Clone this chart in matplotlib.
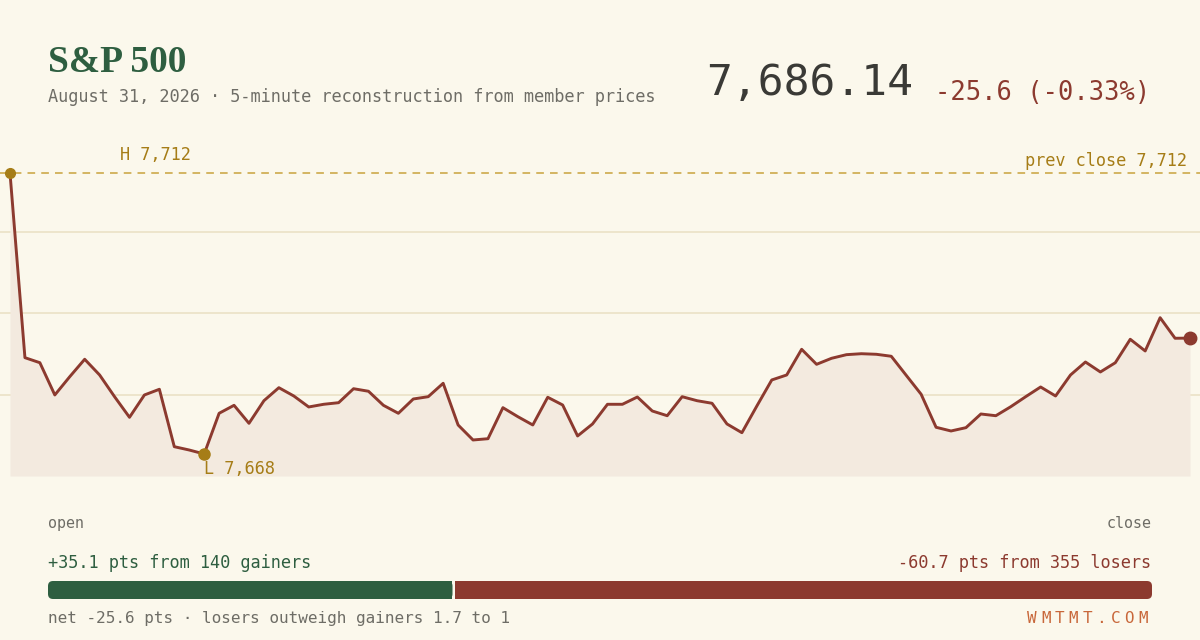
import numpy as np
import matplotlib
matplotlib.use("Agg")
import matplotlib.pyplot as plt
from matplotlib.patches import FancyBboxPatch, Rectangle

# 5-minute index levels, open -> close
levels = [7712.00, 7683.08, 7682.29, 7677.24, 7680.10, 7682.83, 7680.37, 7676.97,
          7673.74, 7677.24, 7678.13, 7669.14, 7668.62, 7668.00, 7674.37, 7675.62,
          7672.80, 7676.34, 7678.38, 7677.08, 7675.36, 7675.78, 7676.03, 7678.22,
          7677.82, 7675.62, 7674.37, 7676.61, 7676.97, 7679.07, 7672.54, 7670.19,
          7670.39, 7675.25, 7673.84, 7672.54, 7676.88, 7675.67, 7670.82, 7672.70,
          7675.78, 7675.78, 7676.92, 7674.73, 7673.99, 7676.97, 7676.34, 7675.94,
          7672.70, 7671.33, 7675.51, 7679.59, 7680.37, 7684.39, 7682.04, 7682.98,
          7683.55, 7683.70, 7683.61, 7683.30, 7680.32, 7677.35, 7672.18, 7671.60,
          7672.12, 7674.26, 7673.99, 7675.40, 7676.97, 7678.49, 7677.08, 7680.37,
          7682.40, 7680.84, 7682.29, 7685.96, 7684.13, 7689.34, 7686.12, 7686.14]
prev_close = 7712
last = 7686.14
change = -25.6
change_pct = -0.33
gain_pts, gain_n = 35.1, 140
loss_pts, loss_n = 60.7, 355

BG = "#fbf8ec"
GREEN = "#2e5e40"
RED = "#8c3a2f"
GOLD = "#a67d17"
GRAY = "#6e6d66"
MONO = "DejaVu Sans Mono"

fig = plt.figure(figsize=(12, 6.4), dpi=100, facecolor=BG)
W, H = 1200, 640

def fy(py):
    return 1 - py / H

# chart area: full width, px 150..476
ax = fig.add_axes([0, fy(476), 1, (476 - 150) / H])
ax.set_facecolor(BG)
n = len(levels)
x = np.arange(n)
step = 1180 / (n - 1)
ax.set_xlim(-10 / step, (n - 1) + 10 / step)
ax.set_ylim(7664.55, 7715.6)
for s in ("top", "right", "bottom", "left"):
    ax.spines[s].set_visible(False)
ax.set_xticks([])
ax.set_yticks([])
y0, y1 = ax.get_ylim()
for g in np.linspace(y0, y1, 5)[1:4]:
    ax.axhline(g, color="#ebe2c6", lw=1.2, zorder=1)

ax.fill_between(x, levels, y0, color="#f3eadf", lw=0, zorder=2)
ax.axhline(prev_close, color="#c9a23c", lw=1.1, ls=(0, (5, 4)), zorder=3)
ax.plot(x, levels, color=RED, lw=2.1, zorder=4)

hi = int(np.argmax(levels))
lo = int(np.argmin(levels))
ax.plot(hi, levels[hi], "o", color=GOLD, ms=7, zorder=5, clip_on=False)
ax.plot(lo, levels[lo], "o", color=GOLD, ms=8, zorder=5)
ax.plot(n - 1, levels[-1], "o", color=RED, ms=9, zorder=5)

ax.annotate(f"H {levels[hi]:,.0f}", (hi, levels[hi]), xytext=(110, 13), textcoords="offset pixels",
            color=GOLD, fontsize=12.2, family=MONO, va="baseline", ha="left")
ax.annotate(f"L {levels[lo]:,.0f}", (lo, levels[lo]), xytext=(0, -20), textcoords="offset pixels",
            color=GOLD, fontsize=12.2, family=MONO, va="baseline", ha="left")
fig.text(1187 / W, fy(166), f"prev close {prev_close:,}", color=GOLD, fontsize=12.2,
         family=MONO, ha="right", va="baseline")

# header
fig.text(48 / W, fy(72), "S&P 500", color=GREEN, fontsize=27, family="Liberation Serif",
         weight="bold", ha="left", va="baseline")
fig.text(48 / W, fy(102), "August 31, 2026 · 5-minute reconstruction from member prices",
         color=GRAY, fontsize=12.2, family=MONO, ha="left", va="baseline")
fig.text(913 / W, fy(95), f"{last:,.2f}", color="#3a3a36", fontsize=31, family=MONO,
         ha="right", va="baseline")
fig.text(1150 / W, fy(100), f"{change:+.1f} ({change_pct:+.2f}%)", color=RED, fontsize=18.4,
         family=MONO, ha="right", va="baseline")

# footer
fig.text(48 / W, fy(528), "open", color=GRAY, fontsize=10.8, family=MONO, va="baseline")
fig.text(1152 / W, fy(528), "close", color=GRAY, fontsize=10.8, family=MONO, ha="right", va="baseline")
fig.text(48 / W, fy(568), f"+{gain_pts} pts from {gain_n} gainers", color=GREEN, fontsize=12.2,
         family=MONO, va="baseline")
fig.text(1151 / W, fy(568), f"-{loss_pts} pts from {loss_n} losers", color=RED, fontsize=12.2,
         family=MONO, ha="right", va="baseline")

# split bar, in pixel units
bar_w, bar_h = 1104, 18
bx = fig.add_axes([48 / W, fy(599), bar_w / W, bar_h / H])
bx.set_xlim(0, bar_w)
bx.set_ylim(0, bar_h)
bx.axis("off")
gw = bar_w * gain_pts / (gain_pts + loss_pts)
gap = 3
r = 5
bx.add_patch(FancyBboxPatch((0, 0), gw, bar_h, boxstyle=f"round,pad=0,rounding_size={r}",
                            fc=GREEN, ec="none"))
bx.add_patch(Rectangle((gw / 2, 0), gw / 2, bar_h, fc=GREEN, ec="none"))
bx.add_patch(FancyBboxPatch((gw + gap, 0), bar_w - gw - gap, bar_h,
                            boxstyle=f"round,pad=0,rounding_size={r}", fc=RED, ec="none"))
bx.add_patch(Rectangle((gw + gap, 0), (bar_w - gw) / 2, bar_h, fc=RED, ec="none"))

ratio = loss_pts / gain_pts
fig.text(48 / W, fy(623), f"net {change:.1f} pts · losers outweigh gainers {ratio:.1f} to 1",
         color=GRAY, fontsize=11.5, family=MONO, va="baseline")
brand = "WMTMT.COM"
for k, ch in enumerate(brand):
    fig.text((1143 - (len(brand) - 1 - k) * 13.9) / W, fy(623), ch, color="#c8673a",
             fontsize=11.5, family=MONO, ha="center", va="baseline")

fig.savefig("out.png", dpi=100, facecolor=BG)
